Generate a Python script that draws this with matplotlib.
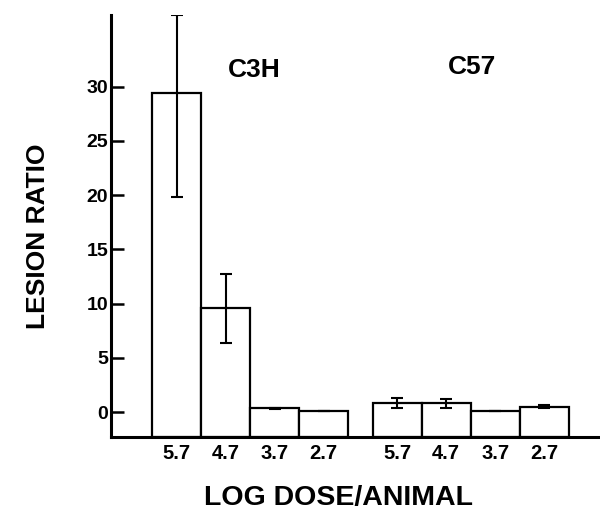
import matplotlib
matplotlib.use("Agg")
import matplotlib.pyplot as plt
import numpy as np

plt.rcParams['font.family'] = ['Liberation Sans', 'DejaVu Sans']
plt.rcParams['font.weight'] = 'bold'

groups = ['C3H', 'C57']
doses = ['5.7', '4.7', '3.7', '2.7']
c3h_vals = [29.4, 9.6, 0.4, 0.12]
c3h_err_lo = [9.6, 3.2, 0.1, 0.0]
c3h_err_hi = [7.2, 3.1, 0.0, 0.0]
c57_vals = [0.8, 0.8, 0.09, 0.49]
c57_err_lo = [0.4, 0.4, 0.0, 0.12]
c57_err_hi = [0.45, 0.4, 0.0, 0.12]
yticks = [0, 5, 10, 15, 20, 25, 30]

ymin, ymax = -2.3, 36.6

fig = plt.figure(figsize=(6.0, 5.17), dpi=100)
ax = fig.add_axes([111/600, 1-437/517, 1-111/600, (437-15)/517])

pos_c3h = np.arange(4)
pos_c57 = np.arange(4) + 4.5
ekw = dict(elinewidth=1.5, capthick=1.5)
ax.bar(pos_c3h, np.array(c3h_vals) - ymin, bottom=ymin, width=1.0, color='white',
       edgecolor='black', linewidth=1.6, zorder=2)
ax.errorbar(pos_c3h, c3h_vals, yerr=[c3h_err_lo, c3h_err_hi], fmt='none', ecolor='black',
            capsize=4, zorder=3, **ekw)
ax.bar(pos_c57, np.array(c57_vals) - ymin, bottom=ymin, width=1.0, color='white',
       edgecolor='black', linewidth=1.6, zorder=2)
ax.errorbar(pos_c57, c57_vals, yerr=[c57_err_lo, c57_err_hi], fmt='none', ecolor='black',
            capsize=4, zorder=3, **ekw)

ax.set_xlim(-1.34, 8.64)
ax.set_ylim(ymin, ymax)
ax.set_yticks(yticks)
ax.set_yticklabels([str(t) for t in yticks], fontsize=14, fontweight='bold')
ax.set_xticks(list(pos_c3h) + list(pos_c57))
ax.set_xticklabels(doses + doses, fontsize=14.5, fontweight='bold')
ax.tick_params(axis='y', direction='in', length=9, width=1.8, pad=2)
ax.tick_params(axis='x', length=0, pad=5)

for s in ['top', 'right']:
    ax.spines[s].set_visible(False)
for s in ['left', 'bottom']:
    ax.spines[s].set_linewidth(2.2)
    ax.spines[s].set_zorder(4)

ax.text(1.58, 31.5, groups[0], ha='center', va='center', fontsize=19, fontweight='bold')
ax.text(6.03, 31.8, groups[1], ha='center', va='center', fontsize=19, fontweight='bold')

fig.text(38/600, 1-236/517, 'LESION RATIO', rotation=90, ha='center', va='center',
         fontsize=19, fontweight='bold')
fig.text(339/600, 1-498/517, 'LOG DOSE/ANIMAL', ha='center', va='center',
         fontsize=20.5, fontweight='bold')

fig.savefig('out.png', dpi=100)
